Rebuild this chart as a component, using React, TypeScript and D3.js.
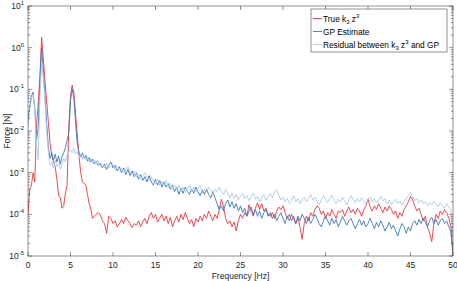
import React from "react";
import * as d3 from "d3";

// Frequency grids [Hz]
const freqLow = d3.range(0, 40).map((i) => i * 0.2); // 0 .. 7.8
const freqHigh = d3.range(0, 169).map((i) => 8 + i * 0.25); // 8 .. 50

// True k3 z^3 [N]
const trueLow = [
  1e-4, 4e-4, 5e-4, 1e-3, 6e-4, 1.4e-2, 4.5e-2, 0.2, 1.8, 0.55,
  0.16, 0.05, 0.016, 5e-3, 2.5e-3, 1.8e-3, 1.4e-3, 7e-4, 2.8e-4, 2.5e-4,
  1.4e-4, 1.6e-4, 3.2e-4, 5e-4, 1.2e-2, 0.07, 0.127, 0.08, 0.025, 8e-3,
  2.5e-3, 1e-3, 6e-4, 5.6e-4, 5e-4, 3e-4, 1.8e-4, 1.3e-4, 8e-5, 9e-5,
];
const trueHigh = [
  1.0e-4, 1.1e-4, 1.0e-4, 7e-5,
  6e-5, 3.5e-5, 9e-5, 8e-5,
  6e-5, 7e-5, 5e-5, 6e-5,
  7.5e-5, 6e-5, 8.5e-5, 7e-5,
  6e-5, 4.8e-5, 6e-5, 5.5e-5,
  7e-5, 5e-5, 6.5e-5, 8e-5,
  6e-5, 9e-5, 1.1e-4, 8e-5,
  1.0e-4, 6.5e-5, 8e-5, 1.0e-4,
  7e-5, 9e-5, 6e-5, 8.5e-5,
  5e-5, 7e-5, 9e-5, 6.5e-5,
  1.0e-4, 7.5e-5, 1.1e-4, 8e-5,
  6e-5, 7.5e-5, 5e-5, 8e-5,
  6.5e-5, 9e-5, 7e-5, 1.0e-4,
  8e-5, 1.2e-4, 9e-5, 7e-5,
  1.0e-4, 8e-5, 1.3e-4, 2.3e-4,
  1.5e-4, 8e-5, 6e-5, 7e-5,
  5e-5, 6.5e-5, 4e-5, 7e-5,
  1.0e-4, 8e-5, 1.1e-4, 9e-5,
  1.7e-4, 1.2e-4, 9e-5, 1.4e-4,
  1.9e-4, 1.3e-4, 1.8e-4, 1.2e-4,
  1.4e-4, 1.0e-4, 9e-5, 1.1e-4,
  8e-5, 1.2e-4, 1.5e-4, 1.3e-4,
  1.6e-4, 1.1e-4, 8e-5, 1.0e-4,
  7e-5, 9e-5, 6e-5, 8e-5,
  5e-5, 2.5e-5, 6e-5, 9e-5,
  7e-5, 1.1e-4, 9e-5, 1.3e-4,
  1.6e-4, 1.4e-4, 1.0e-4, 1.2e-4,
  8e-5, 1.1e-4, 9e-5, 1.3e-4,
  1.0e-4, 8e-5, 1.2e-4, 1.1e-4,
  1.3e-4, 9e-5, 1.2e-4, 1.5e-4,
  1.1e-4, 1.3e-4, 1.0e-4, 1.4e-4,
  1.2e-4, 9e-5, 1.3e-4, 1.6e-4,
  2.3e-4, 1.5e-4, 1.2e-4, 1.6e-4,
  1.3e-4, 1.8e-4, 1.4e-4, 1.1e-4,
  1.5e-4, 1.2e-4, 1.6e-4, 1.3e-4,
  1.0e-4, 1.2e-4, 8e-5, 1.1e-4,
  9e-5, 1.3e-4, 1.6e-4, 2.0e-4,
  2.7e-4, 2.2e-4, 1.6e-4, 1.2e-4,
  1.4e-4, 1.0e-4, 7e-5, 9e-5,
  5e-5, 3.5e-5, 2.2e-5, 6e-5,
  1.0e-4, 8e-5, 1.2e-4, 1.0e-4,
  1.3e-4, 1.1e-4, 8e-5, 5e-5,
  1.0e-5,
];

// GP Estimate [N]
const gpLow = [
  0.02, 0.035, 0.07, 0.085, 0.035, 6e-3, 0.012, 0.15, 1.0, 0.3,
  0.07, 0.015, 4e-3, 2.2e-3, 3e-3, 2e-3, 2.8e-3, 1.8e-3, 2.5e-3, 1.6e-3,
  2.4e-3, 3e-3, 4e-3, 6e-3, 9e-3, 0.055, 0.1, 0.06, 0.015, 5e-3,
  3e-3, 2.4e-3, 3e-3, 2.2e-3, 2.6e-3, 1.9e-3, 2.3e-3, 1.8e-3, 2.1e-3, 1.6e-3,
];
const gpHigh = [
  1.9e-3, 1.5e-3, 1.7e-3, 1.3e-3,
  1.6e-3, 1.2e-3, 1.5e-3, 1.8e-3,
  1.3e-3, 1.5e-3, 1.1e-3, 1.4e-3,
  1.0e-3, 1.3e-3, 9e-4, 1.2e-3,
  8.5e-4, 1.1e-3, 8e-4, 1.0e-3,
  7e-4, 9e-4, 6.5e-4, 8e-4,
  6e-4, 8.5e-4, 6e-4, 5e-4,
  7e-4, 5e-4, 6.5e-4, 4.5e-4,
  6e-4, 4.5e-4, 5.5e-4, 4e-4,
  5e-4, 3.5e-4, 4.5e-4, 3e-4,
  4.2e-4, 3.2e-4, 4.5e-4, 3.5e-4,
  3e-4, 4e-4, 3.2e-4, 4.5e-4,
  3.5e-4, 2.8e-4, 3.8e-4, 3e-4,
  4e-4, 3e-4, 2.5e-4, 3.5e-4,
  2.5e-4, 1.8e-4, 1.3e-4, 1.6e-4,
  1.2e-4, 1.8e-4, 2.2e-4, 1.5e-4,
  2.0e-4, 1.4e-4, 1.8e-4, 1.2e-4,
  1.6e-4, 1.1e-4, 1.4e-4, 9e-5,
  1.2e-4, 1.5e-4, 1.0e-4, 1.3e-4,
  9e-5, 1.2e-4, 8e-5, 1.1e-4,
  1.3e-4, 9e-5, 1.1e-4, 8e-5,
  1.0e-4, 7e-5, 9e-5, 1.1e-4,
  8e-5, 6e-5, 9e-5, 7e-5,
  1.0e-4, 8e-5, 6e-5, 9e-5,
  7e-5, 1.0e-4, 8e-5, 6e-5,
  8.5e-5, 6e-5, 7.5e-5, 1.0e-4,
  8e-5, 6e-5, 5e-5, 7e-5,
  9e-5, 7e-5, 5.5e-5, 8e-5,
  6e-5, 7.5e-5, 5e-5, 6.5e-5,
  9e-5, 7e-5, 5.5e-5, 7e-5,
  8e-5, 6e-5, 4.5e-5, 6e-5,
  7.5e-5, 5.5e-5, 7e-5, 5e-5,
  6e-5, 8e-5, 6e-5, 4.5e-5,
  6.5e-5, 5e-5, 7e-5, 5.5e-5,
  4e-5, 5e-5, 6.5e-5, 4.5e-5,
  5.5e-5, 4e-5, 3e-5, 4.5e-5,
  6e-5, 5e-5, 3.5e-5, 5e-5,
  4e-5, 6e-5, 7e-5, 5.5e-5,
  7.5e-5, 6e-5, 8e-5, 6.5e-5,
  5e-5, 7e-5, 8.5e-5, 6e-5,
  7.5e-5, 5.5e-5, 7e-5, 8e-5,
  6e-5, 7e-5, 5e-5, 4e-5,
  1.2e-5,
];

// Residual between k3 z^3 and GP [N]
const resLow = [
  0.012, 0.03, 0.06, 0.075, 0.03, 5e-3, 2e-3, 0.06, 0.43, 0.2,
  0.05, 0.01, 3e-3, 1.5e-3, 1.8e-3, 1.3e-3, 2e-3, 1.4e-3, 1.7e-3, 1.2e-3,
  1.6e-3, 2.2e-3, 1.8e-3, 2.6e-3, 3.2e-3, 3.5e-3, 3e-3, 3.8e-3, 2.8e-3, 3.2e-3,
  2.4e-3, 2.8e-3, 2.1e-3, 2.6e-3, 2e-3, 2.4e-3, 1.8e-3, 2.2e-3, 1.7e-3, 2e-3,
];
const resHigh = [
  1.7e-3, 2.0e-3, 1.4e-3, 1.6e-3,
  1.3e-3, 1.7e-3, 1.3e-3, 1.5e-3,
  1.6e-3, 1.2e-3, 1.4e-3, 1.2e-3,
  1.3e-3, 1.0e-3, 1.2e-3, 1.4e-3,
  1.0e-3, 9e-4, 1.1e-3, 8e-4,
  9e-4, 7e-4, 8.5e-4, 1.0e-3,
  7.5e-4, 6.5e-4, 8e-4, 6e-4,
  5.5e-4, 7e-4, 5e-4, 6e-4,
  5e-4, 6.5e-4, 4.5e-4, 5.5e-4,
  4e-4, 5e-4, 4e-4, 5e-4,
  3.5e-4, 4.5e-4, 3.5e-4, 4.2e-4,
  5e-4, 3.5e-4, 4.5e-4, 3.5e-4,
  4.2e-4, 5e-4, 3.2e-4, 4e-4,
  3.5e-4, 4.5e-4, 3.8e-4, 3e-4,
  4e-4, 3.5e-4, 4.5e-4, 3.5e-4,
  3e-4, 4e-4, 3.2e-4, 2.5e-4,
  3.2e-4, 2.4e-4, 3e-4, 2.2e-4,
  2.8e-4, 3.2e-4, 2.4e-4, 2.8e-4,
  2.1e-4, 2.6e-4, 3.2e-4, 2.3e-4,
  2.7e-4, 2.0e-4, 2.5e-4, 3e-4,
  2.2e-4, 2.6e-4, 3.2e-4, 2.5e-4,
  3.5e-4, 4e-4, 2.8e-4, 2.2e-4,
  2.6e-4, 2e-4, 2.4e-4, 1.8e-4,
  2.2e-4, 2.8e-4, 2.0e-4, 2.4e-4,
  1.8e-4, 2.2e-4, 2.6e-4, 2.0e-4,
  2.4e-4, 3e-4, 2.2e-4, 2.6e-4,
  2e-4, 1.7e-4, 2.2e-4, 2.8e-4,
  2.3e-4, 1.9e-4, 2.4e-4, 2.9e-4,
  2.2e-4, 1.8e-4, 2.3e-4, 2.0e-4,
  2.6e-4, 2.1e-4, 1.7e-4, 2.2e-4,
  2.8e-4, 2.3e-4, 1.9e-4, 2.4e-4,
  2.0e-4, 2.5e-4, 2.1e-4, 1.8e-4,
  2.3e-4, 2.6e-4, 2.0e-4, 2.4e-4,
  1.9e-4, 2.2e-4, 2.7e-4, 2.1e-4,
  2.4e-4, 1.8e-4, 2.2e-4, 1.7e-4,
  2.0e-4, 2.3e-4, 1.8e-4, 2.1e-4,
  1.7e-4, 2.0e-4, 2.4e-4, 2.8e-4,
  3.4e-4, 2.6e-4, 2.1e-4, 2.4e-4,
  1.9e-4, 2.2e-4, 1.8e-4, 2.0e-4,
  1.6e-4, 1.9e-4, 1.7e-4, 2.1e-4,
  1.8e-4, 1.5e-4, 1.9e-4, 1.6e-4,
  1.4e-4, 1.8e-4, 1.5e-4, 1.3e-4,
  3e-5,
];

const xTicks = [0, 5, 10, 15, 20, 25, 30, 35, 40, 45, 50];
const yExponents = [-5, -4, -3, -2, -1, 0, 1];

const seriesNames = ["True k3 z3", "GP Estimate", "Residual between k3 z3 and GP"];
const seriesColors = ["#e8383f", "#3b78bb", "#a9c9ea"];

const W = 457;
const H = 281;
const M = { left: 28, right: 453, top: 6, bottom: 256 };
const FONT = "'Liberation Sans', Arial, Helvetica, sans-serif";
const AX = "#262626";

export default function App() {
  const x = d3.scaleLinear().domain([0, 50]).range([M.left, M.right]);
  const y = d3.scaleLog().domain([1e-5, 10]).range([M.bottom, M.top]);
  const freq = [...freqLow, ...freqHigh];
  const series = [
    [...trueLow, ...trueHigh],
    [...gpLow, ...gpHigh],
    [...resLow, ...resHigh],
  ];
  const line = d3
    .line<number>()
    .x((_, i) => x(freq[i]))
    .y((v) => y(v));

  const minor: number[] = [];
  for (let e = -5; e < 1; e++) for (let k = 2; k <= 9; k++) minor.push(k * Math.pow(10, e));

  const legX = 311, legY = 9, legW = 136, legH = 43;
  const rowY = [18.5, 31.5, 44.5];

  const legendLabel = (i: number) => {
    if (i === 0)
      return (
        <>
          True k<tspan fontSize={6} dy={2}>3</tspan>
          <tspan dy={-2}> z</tspan>
          <tspan fontSize={6} dy={-3.5}>3</tspan>
        </>
      );
    if (i === 1) return <>GP Estimate</>;
    return (
      <>
        Residual between k<tspan fontSize={6} dy={2}>3</tspan>
        <tspan dy={-2}> z</tspan>
        <tspan fontSize={6} dy={-3.5}>3</tspan>
        <tspan dy={3.5}> and GP</tspan>
      </>
    );
  };

  return (
    <svg width={W} height={H} style={{ position: "absolute", left: 0, top: 0, background: "#fff" }} fontFamily={FONT}>
      <rect x={0} y={0} width={W} height={H} fill="#fff" />
      <defs>
        <clipPath id="plotclip">
          <rect x={M.left} y={M.top} width={M.right - M.left} height={M.bottom - M.top} />
        </clipPath>
      </defs>

      <g clipPath="url(#plotclip)">
        {series.map((s, i) => (
          <path key={i} d={line(s) || ""} fill="none" stroke={seriesColors[i]} strokeWidth={0.9} strokeLinejoin="round" />
        ))}
      </g>

      {/* axes box */}
      <rect x={M.left} y={M.top} width={M.right - M.left} height={M.bottom - M.top} fill="none" stroke={AX} strokeWidth={0.5} />

      {/* x ticks */}
      {xTicks.map((t) => (
        <g key={t}>
          <line x1={x(t)} x2={x(t)} y1={M.bottom} y2={M.bottom - 4} stroke={AX} strokeWidth={0.5} />
          <line x1={x(t)} x2={x(t)} y1={M.top} y2={M.top + 4} stroke={AX} strokeWidth={0.5} />
          <text x={x(t)} y={268} textAnchor="middle" fontSize={8.5} fill={AX}>
            {t}
          </text>
        </g>
      ))}

      {/* y ticks */}
      {yExponents.map((e) => {
        const yy = y(Math.pow(10, e));
        return (
          <g key={e}>
            <line x1={M.left} x2={M.left + 4} y1={yy} y2={yy} stroke={AX} strokeWidth={0.5} />
            <line x1={M.right} x2={M.right - 4} y1={yy} y2={yy} stroke={AX} strokeWidth={0.5} />
            <text x={24} y={yy + 3} textAnchor="end" fontSize={8.5} fill={AX}>
              10<tspan fontSize={6} dy={-4}>{e}</tspan>
            </text>
          </g>
        );
      })}
      {minor.map((v) => (
        <g key={v}>
          <line x1={M.left} x2={M.left + 2.2} y1={y(v)} y2={y(v)} stroke={AX} strokeWidth={0.5} />
          <line x1={M.right} x2={M.right - 2.2} y1={y(v)} y2={y(v)} stroke={AX} strokeWidth={0.5} />
        </g>
      ))}

      {/* axis labels */}
      <text x={(M.left + M.right) / 2} y={279} textAnchor="middle" fontSize={8.5} fill={AX}>
        Frequency [Hz]
      </text>
      <text transform={`translate(10,${(M.top + M.bottom) / 2}) rotate(-90)`} textAnchor="middle" fontSize={8.5} fill={AX}>
        Force [N]
      </text>

      {/* legend */}
      <rect x={legX} y={legY} width={legW} height={legH} fill="#fff" stroke={AX} strokeWidth={0.5} />
      {seriesNames.map((n, i) => (
        <g key={n}>
          <line x1={legX + 2} x2={legX + 11} y1={rowY[i]} y2={rowY[i]} stroke={seriesColors[i]} strokeWidth={0.9} />
          <text x={legX + 12} y={rowY[i] + 3} fontSize={8.3} fill="#000">
            {legendLabel(i)}
          </text>
        </g>
      ))}
    </svg>
  );
}
